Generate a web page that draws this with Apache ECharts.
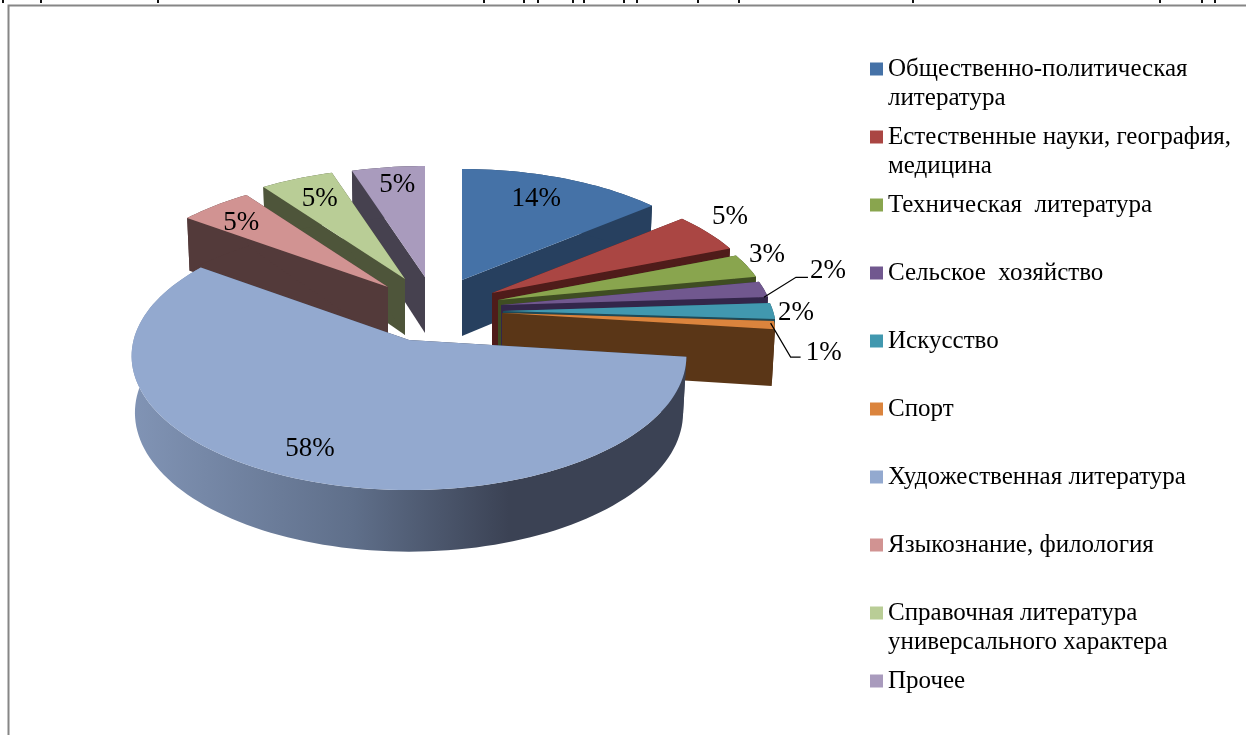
<!DOCTYPE html>
<html>
<head>
<meta charset="utf-8">
<script src="https://cdn.jsdelivr.net/npm/echarts@6/dist/echarts.min.js"></script>
<style>html,body{margin:0;padding:0;background:#fff}#c{width:1246px;height:735px}</style>
</head>
<body>
<div id="c"></div>
<script>
// ---- data ----
const categories = [
  'Общественно-политическая литература',
  'Естественные науки, география, медицина',
  'Техническая  литература',
  'Сельское  хозяйство',
  'Искусство',
  'Спорт',
  'Художественная литература',
  'Языкознание, филология',
  'Справочная литература универсального характера',
  'Прочее'
];
const percentValues = [14, 5, 3, 2, 2, 1, 58, 5, 5, 5];

// ---- styles ----
const topColors  = ['#4572A7','#AA4643','#89A54E','#71588F','#4198AF','#DB843D','#93A9CF','#D19392','#B9CD96','#A99BBD'];
const wallColors = ['#27405f','#4f1c1a','#3f4d22','#33264a','#1e4a58','#5a3617','#3b4254','#533a3a','#4e553a','#46414f'];
// explode position of each slice's apex on the page
const apexes = [[462,280],[492,293],[498,300],[501,305],[503,311],[502,313],[409,340],[388,287],[405,279],[425,277]];
const widthScale = [1,1,1,1,1,1,1.02,1,1,1];
const perspective = [0.149,0.149,0.149,0.149,0.149,0.149,0.12,0.149,0.149,0.149];
const squash = [127.5,127.5,127.5,127.5,127.5,127.5,132,127.5,127.5,127.5];
const drawOrder = [9,8,7,0,1,2,3,4,5,6]; // back to front
const labelOffsets = [[-27,21],[22,-16],[20,-11],[64,-18],[23,2],[49,28],[15,-29],[26,17],[23,20],[9,18]];
const leaders = {3:[[0,8],[32,-12],[44,-12]], 5:[[-4,-2],[16,32],[26,32]]};
const legendBreaks = {0:'Общественно-политическая\nлитература',1:'Естественные науки, география,\nмедицина',8:'Справочная литература\nуниверсального характера'};
const cropMarks = [2,40,157,483,523,537,572,583,623,636,697,738,912,1159,1201,1214];
const R = 270, DEPTH = 56, BOTTOM_SHRINK = 0.988;
const SERIF = '"Liberation Serif","Times New Roman",serif';

const total = percentValues.reduce((a,b)=>a+b,0);
const startAngles = [];
percentValues.reduce((acc,v,i)=>{startAngles[i]=acc/total*Math.PI*2; return acc+v;},0);

function project(i, a, r, bottom){
  const X = r*Math.sin(a), Y = -r*Math.cos(a), s = 1/(1-perspective[i]*Y);
  const f = bottom ? BOTTOM_SHRINK : 1;
  return [
    apexes[i][0] + R*widthScale[i]*X*s*f,
    apexes[i][1] + squash[i]*Y*s + (bottom ? DEPTH*Math.pow(s,0.75) : 0)
  ];
}
function sliceChildren(i){
  const a0 = startAngles[i], a1 = a0 + percentValues[i]/total*Math.PI*2;
  const steps = Math.max(12, Math.round(percentValues[i]*2));
  const arcTop = [], arcBot = [];
  for(let k=0;k<=steps;k++){
    const a = a0+(a1-a0)*k/steps;
    arcTop.push(project(i,a,1,false));
    arcBot.push(project(i,a,1,true));
  }
  const apexT = project(i,0,0,false), apexB = project(i,0,0,true);
  const wall = wallColors[i];
  const outerFill = i===6 ? {type:'linear',x:0,y:0,x2:1,y2:0,colorStops:[
      {offset:0,color:'#8194b5'},{offset:0.4,color:'#5f6f8a'},{offset:0.68,color:'#3b4254'},{offset:1,color:'#3b4254'}]} : wall;
  const poly = (points,fill)=>({type:'polygon',shape:{points},style:{fill,stroke:null},silent:true});
  return [
    poly([apexT,arcTop[0],arcBot[0],apexB],wall),
    poly([apexT,arcTop[steps],arcBot[steps],apexB],wall),
    poly(arcTop.concat(arcBot.slice().reverse()),outerFill),
    poly([apexT].concat(arcTop),topColors[i])
  ];
}
function labelChildren(i){
  const mid = startAngles[i] + percentValues[i]/total*Math.PI;
  const p = project(i,mid,1,false);
  const out = [{type:'text',silent:true,style:{
    x:p[0]+labelOffsets[i][0], y:p[1]+labelOffsets[i][1],
    text:percentValues[i]+'%', fill:'#000', align:'center', verticalAlign:'middle',
    font:'27px '+SERIF}}];
  if(leaders[i]){
    out.push({type:'polyline',silent:true,
      shape:{points:leaders[i].map(o=>[p[0]+o[0],p[1]+o[1]])},
      style:{stroke:'#000',lineWidth:1.2,fill:null}});
  }
  return out;
}

const sliceSeries = categories.map((name,i)=>({
  type:'custom', name, coordinateSystem:'none', silent:true,
  z: 2+drawOrder.indexOf(i),
  itemStyle:{color:topColors[i]},
  data:[percentValues[i]],
  renderItem:()=>({type:'group',children:sliceChildren(i)})
}));
const labelSeries = {
  type:'custom', name:'labels', coordinateSystem:'none', silent:true, z:30,
  data:percentValues,
  renderItem:(params)=>({type:'group',children:labelChildren(params.dataIndex)})
};

const legendStep = 68, legendFirst = 69;
const legends = categories.map((name,i)=>{
  const two = !!legendBreaks[i];
  return {
    data:[{name,icon:'rect'}], orient:'vertical', left:870, padding:0,
    top: legendFirst + legendStep*i - (two?43.5:14.5),
    itemWidth:13, itemHeight:13, selectedMode:false,
    formatter:()=> two ? '\n'+legendBreaks[i] : name,
    textStyle:{fontFamily:SERIF,fontSize:25,color:'#000',lineHeight:29}
  };
});

const chart = echarts.init(document.getElementById('c'),null,{renderer:'canvas'});
chart.setOption({
  animation:false,
  backgroundColor:'#fff',
  legend:legends,
  series:sliceSeries.concat([labelSeries]),
  graphic:[
    {type:'polyline',silent:true,z:0,shape:{points:[[8.5,740],[8.5,5.5],[1250,5.5]]},style:{stroke:'#868686',lineWidth:2,fill:null}}
  ].concat(cropMarks.map(x=>({type:'rect',silent:true,z:0,shape:{x:x,y:0,width:2,height:3},style:{fill:'#111'}})))
});
</script>
</body>
</html>
